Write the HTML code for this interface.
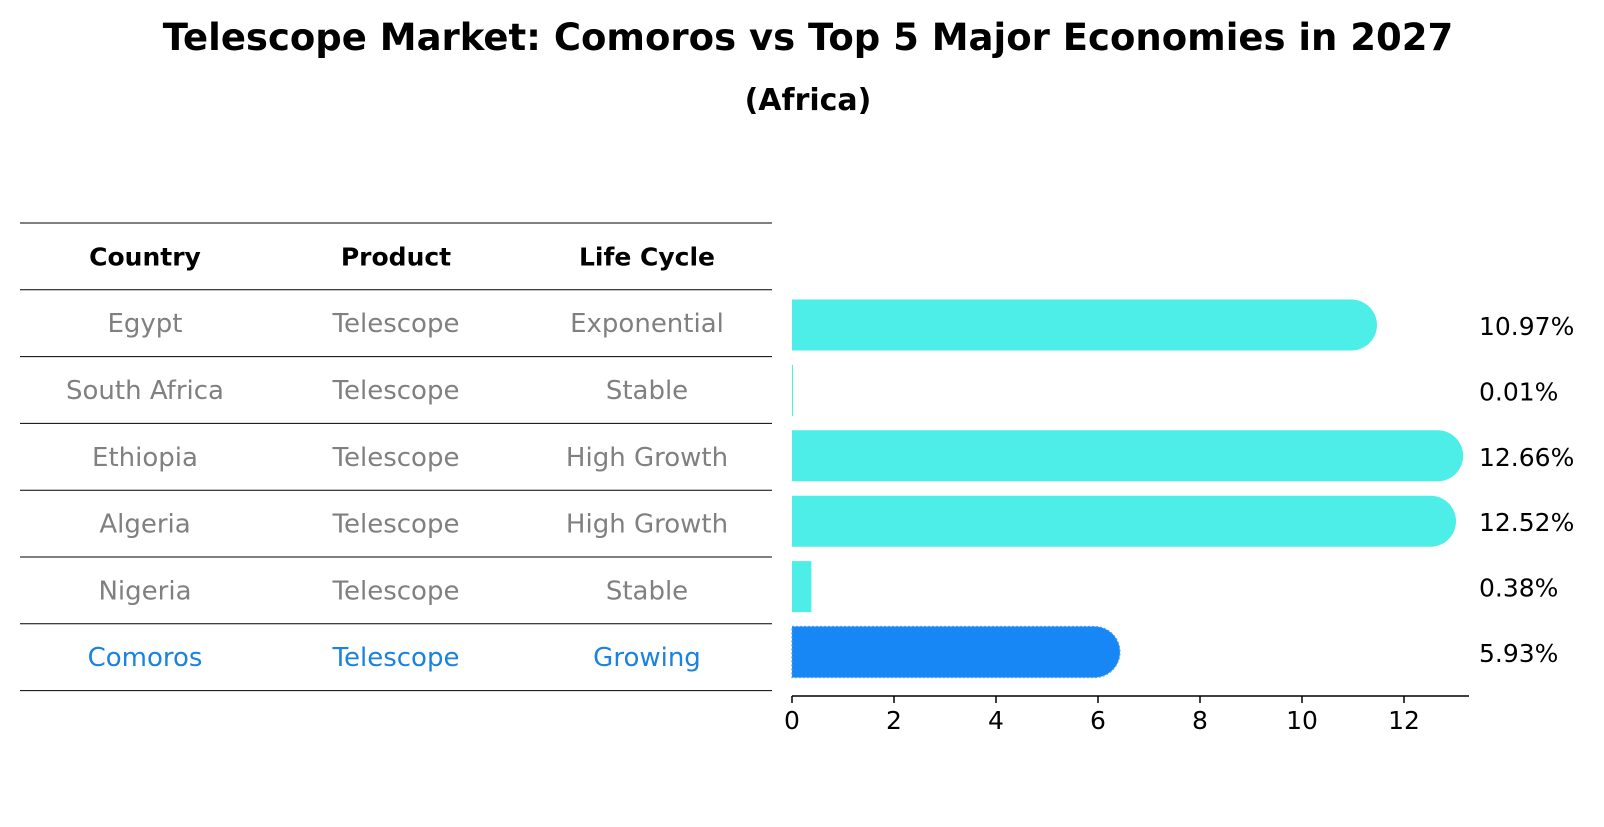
<!DOCTYPE html>
<html><head><meta charset="utf-8"><style>
body{margin:0;background:#fff;font-family:"DejaVu Sans","Liberation Sans",sans-serif;}
svg text{font-family:"DejaVu Sans","Liberation Sans",sans-serif;}
</style></head><body>
<svg id="c" width="1604" height="823" xmlns="http://www.w3.org/2000/svg">
<text x="808" y="50" text-anchor="middle" font-size="37" font-weight="bold">Telescope Market: Comoros vs Top 5 Major Economies in 2027</text>
<text x="808" y="110" text-anchor="middle" font-size="30" font-weight="bold">(Africa)</text>
<g id="tbl"></g>
<g id="bars"></g>
</svg>
<script>
const countries=["Egypt","South Africa","Ethiopia","Algeria","Nigeria","Comoros"];
const products=["Telescope","Telescope","Telescope","Telescope","Telescope","Telescope"];
const lifeCycles=["Exponential","Stable","High Growth","High Growth","Stable","Growing"];
const values=[10.97,0.01,12.66,12.52,0.38,5.93];
const ticks=[0,2,4,6,8,10,12];
const NS="http://www.w3.org/2000/svg";
function mk(tag,attrs,parent,txt){const e=document.createElementNS(NS,tag);for(const k in attrs)e.setAttribute(k,attrs[k]);if(txt!==undefined)e.textContent=txt;parent.appendChild(e);return e;}
const tbl=document.getElementById('tbl'),bars=document.getElementById('bars');
const lineY0=223,rowH=66.8,colX=[145,396,647];
for(let i=0;i<=7;i++){const y=lineY0+i*rowH;const l=mk('line',{x1:20,x2:772,y1:y,y2:y,stroke:'#000','stroke-width':1},tbl);

}
["Country","Product","Life Cycle"].forEach((h,j)=>{const t=mk('text',{x:colX[j],y:lineY0+rowH/2+9,'text-anchor':'middle','font-size':25,'font-weight':'bold'},tbl,h);

});
countries.forEach((c,i)=>{const y=lineY0+(i+1.5)*rowH+9;const col=c==="Comoros"?'#1a82e0':'#808080';
[c,products[i],lifeCycles[i]].forEach((v,j)=>{const t=mk('text',{x:colX[j],y:y,'text-anchor':'middle','font-size':26,fill:col},tbl,v);

});});
const x0=792,k=51,bh=51,axisY=696;
const sx=v=>x0+v*k;
const cy=i=>325+i*65.4;
values.forEach((v,i)=>{const isC=countries[i]==="Comoros";const col=isC?'#1787f5':'#4deee8';const y=cy(i)-bh/2;const r=bh/2;
let d;
if(v<0.5){d=`M${x0},${y}H${Math.max(sx(v),x0+1)}V${y+bh}H${x0}Z`;}
else{d=`M${x0},${y}H${sx(v)}A${r},${r} 0 0 1 ${sx(v)},${y+bh}H${x0}Z`;}
const p=mk('path',{d:d,fill:col},bars);
if(isC){p.setAttribute('stroke','#4a9de8');p.setAttribute('stroke-width','1.2');p.setAttribute('stroke-dasharray','2 2');}


const t=mk('text',{x:1479,y:cy(i)+10,'font-size':25},bars,v.toFixed(2)+'%');

});
const ax=mk('line',{x1:x0,x2:1469,y1:axisY,y2:axisY,stroke:'#000','stroke-width':1.5},bars);


ticks.forEach(t=>{const tk=mk('line',{x1:sx(t),x2:sx(t),y1:axisY,y2:axisY+7,stroke:'#000','stroke-width':1.5},bars);


const tl=mk('text',{x:sx(t),y:axisY+33,'text-anchor':'middle','font-size':25},bars,String(t));

});
</script>
</body></html>
